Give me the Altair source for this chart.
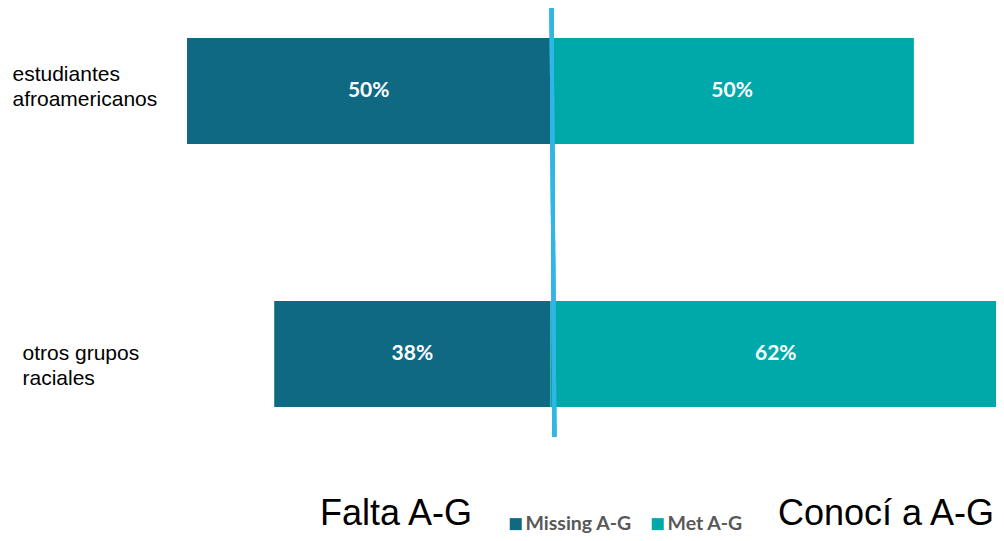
import altair as alt
import pandas as pd

groups = ["estudiantes\nafroamericanos", "otros grupos\nraciales"]
series = ["Missing A-G", "Met A-G"]
missing = [50, 38]
met = [50, 62]
colors = ["#0F6982", "#00A9A9"]
left_note = ["Falta A-G"]
right_note = ["Conocí a A-G"]

rows = []
for g, m, t in zip(groups, missing, met):
    rows.append({"group": g, "series": series[0], "value": m})
    rows.append({"group": g, "series": series[1], "value": t})
df = pd.DataFrame(rows)

W, H = 809, 429

base = alt.Chart(df).transform_calculate(
    start="0",
    end=f"datum.series == '{series[0]}' ? -datum.value : datum.value",
    mid=f"datum.series == '{series[0]}' ? -datum.value / 2 : datum.value / 2",
    label="datum.value + '%'",
)

xscale = alt.Scale(domain=[-50, 61.3], nice=False, zero=False)

is_other = "indexof(datum.value, 'otros') >= 0"

yenc = alt.Y(
    "group:N",
    sort=groups,
    scale=alt.Scale(paddingInner=0.597, paddingOuter=0.114),
    axis=alt.Axis(
        title=None,
        domain=False,
        ticks=False,
        labelExpr="split(datum.label, '\\n')",
        labelAlign="left",
        labelBaseline="middle",
        labelPadding={"condition": {"test": is_other, "value": 165}, "value": 175},
        labelOffset={"condition": {"test": is_other, "value": 0}, "value": -16},
        labelFont="Liberation Sans",
        labelFontSize=21,
        labelLineHeight=25,
        labelColor="#000000",
        labelLimit=0,
    ),
)

bars = base.mark_bar(clip=True).encode(
    x=alt.X("start:Q", scale=xscale, axis=None),
    x2="end:Q",
    y=yenc,
    color=alt.Color(
        "series:N",
        scale=alt.Scale(domain=series, range=colors),
        sort=series,
        legend=alt.Legend(
            orient="none",
            legendX=319,
            legendY=506,
            direction="horizontal",
            title=None,
            padding=0,
            symbolType="square",
            symbolSize=144,
            symbolStrokeWidth=0,
            symbolOpacity=1,
            labelFont="Lato",
            labelFontSize=19.5,
            labelFontWeight="bold",
            labelColor="#595959",
            labelOffset=0,
            columnPadding=16,
        ),
    ),
)

texts = base.mark_text(font="Lato", fontSize=21, fontWeight="bold", color="white").encode(
    x=alt.X("mid:Q", scale=xscale, axis=None),
    y=alt.Y("group:N", sort=groups),
    text="label:N",
)

rule = alt.Chart(df).mark_rule(color="#2FB5E6", strokeWidth=4).encode(
    x=alt.datum(0.15),
    x2=alt.datum(0.55),
    y=alt.value(0),
    y2=alt.value(H),
)

note_left = alt.Chart(pd.DataFrame({"t": left_note})).mark_text(
    align="right", baseline="alphabetic", font="Liberation Sans", fontSize=36, color="#000000"
).encode(x=alt.value(285), y=alt.value(517), text="t:N")

note_right = alt.Chart(pd.DataFrame({"t": right_note})).mark_text(
    align="left", baseline="alphabetic", font="Liberation Sans", fontSize=36, color="#000000"
).encode(x=alt.value(591), y=alt.value(517), text="t:N")

chart = alt.layer(bars, texts, rule, note_left, note_right).properties(
    width=W,
    height=H,
    autosize=alt.AutoSizeParams(type="none"),
    padding={"left": 179, "top": 0, "right": 0, "bottom": 96},
).configure_view(stroke=None)

chart.save("out.html", embed_options={"renderer": "svg", "actions": False})
